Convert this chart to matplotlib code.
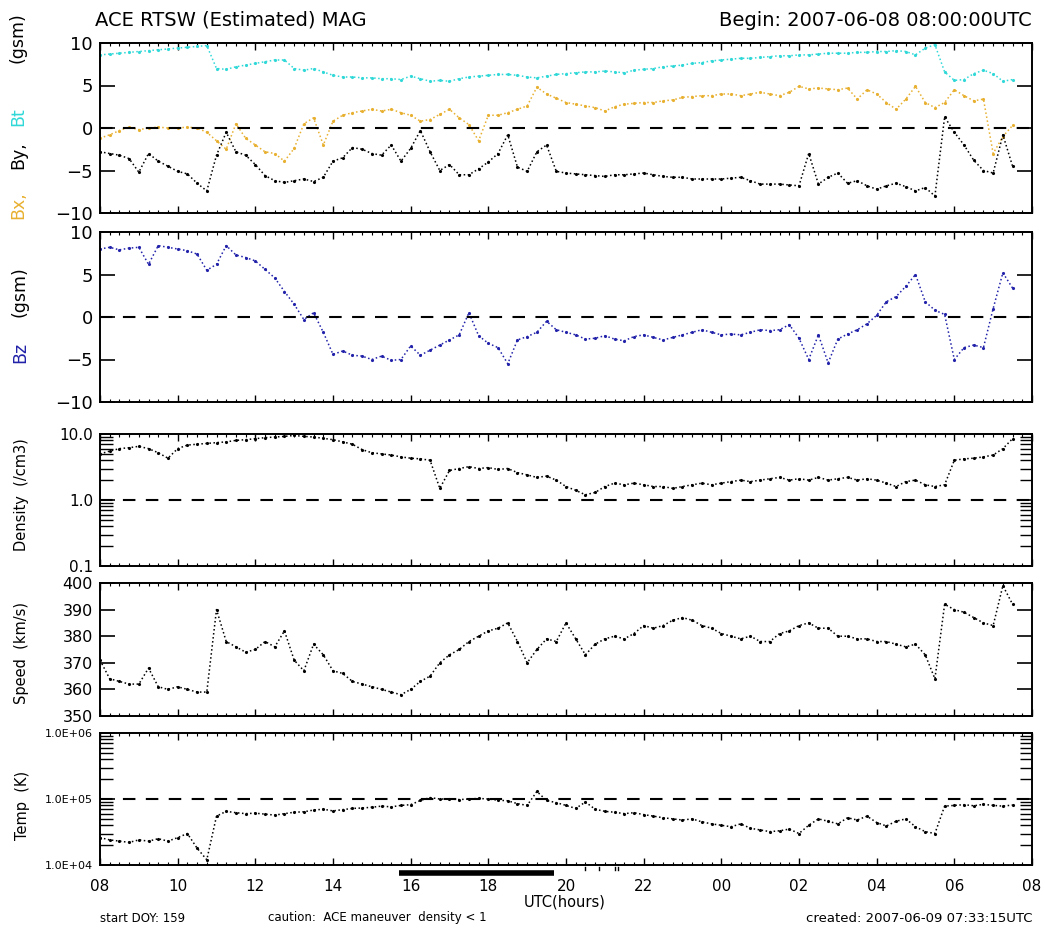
import numpy as np
import matplotlib
matplotlib.use('Agg')
import matplotlib.pyplot as plt
from matplotlib.ticker import FixedLocator, MultipleLocator, LogLocator, NullFormatter
from matplotlib.transforms import blended_transform_factory

W, H = 1046, 933

# hours since 2007-06-08 08:00 UTC, 15 minute samples
hours = np.arange(0, 23.75, 0.25)

bt = [8.6, 8.7, 8.8, 8.9, 9.0, 9.1, 9.2, 9.3,
      9.4, 9.5, 9.6, 9.7, 7.0, 6.9, 7.2, 7.4,
      7.6, 7.8, 8.0, 8.0, 7.0, 6.8, 7.0, 6.6,
      6.2, 6.0, 6.0, 5.9, 5.9, 5.8, 5.8, 5.7,
      6.1, 5.8, 5.5, 5.6, 5.5, 5.8, 6.0, 6.1,
      6.2, 6.3, 6.3, 6.2, 6.0, 5.9, 6.1, 6.3,
      6.4, 6.5, 6.6, 6.6, 6.7, 6.6, 6.5, 6.8,
      6.9, 7.0, 7.2, 7.3, 7.4, 7.6, 7.7, 7.9,
      8.0, 8.1, 8.2, 8.2, 8.3, 8.4, 8.5, 8.5,
      8.6, 8.6, 8.7, 8.8, 8.8, 8.8, 8.9, 8.9,
      9.0, 9.0, 9.1, 9.0, 8.6, 9.4, 9.8, 6.6,
      5.6, 5.7, 6.4, 6.8, 6.4, 5.5, 5.7]

bx = [-1.2, -0.8, -0.3, 0.1, -0.2, 0.0, 0.1, 0.0,
      0.0, 0.1, 0.0, -0.5, -1.5, -2.5, 0.5, -1.2,
      -2.0, -2.8, -3.0, -3.9, -2.4, 0.5, 1.2, -2.0,
      0.8, 1.5, 1.8, 2.0, 2.2, 2.0, 2.2, 1.8,
      1.5, 0.8, 1.0, 1.6, 2.2, 1.2, 0.4, -1.5,
      1.5, 1.5, 1.8, 2.2, 2.6, 4.8, 4.0, 3.5,
      3.0, 2.8, 2.6, 2.4, 2.0, 2.5, 2.8, 2.9,
      3.0, 3.0, 3.2, 3.3, 3.6, 3.7, 3.8, 3.8,
      4.0, 4.0, 3.8, 4.0, 4.2, 4.0, 3.8, 4.2,
      4.9, 4.6, 4.7, 4.6, 4.5, 4.7, 3.4, 4.5,
      4.0, 3.0, 2.2, 3.4, 4.9, 3.0, 2.4, 3.0,
      4.5, 3.8, 3.2, 3.4, -3.0, -1.0, 0.3]

by = [-2.8, -3.0, -3.2, -3.6, -5.2, -3.0, -3.9, -4.5,
      -5.1, -5.4, -6.5, -7.4, -3.2, -0.5, -2.8, -3.2,
      -4.3, -5.6, -6.2, -6.4, -6.2, -6.0, -6.3, -5.8,
      -3.9, -3.5, -2.3, -2.5, -3.0, -3.2, -2.0, -3.9,
      -2.4, -0.3, -2.8, -5.0, -4.3, -5.5, -5.5, -4.8,
      -4.0, -3.0, -0.8, -4.6, -5.1, -2.8, -2.0, -5.1,
      -5.3, -5.4, -5.5, -5.6, -5.7, -5.5, -5.5, -5.4,
      -5.3, -5.5, -5.7, -5.8, -5.8, -6.0, -6.0, -6.0,
      -6.0, -5.9, -5.8, -6.2, -6.6, -6.6, -6.6, -6.7,
      -6.8, -3.0, -6.6, -5.8, -5.3, -6.5, -6.2, -6.8,
      -7.2, -6.8, -6.5, -6.9, -7.4, -7.0, -8.0, 1.3,
      -0.5, -2.0, -3.8, -5.0, -5.3, -0.8, -4.5]

bz = [8.0, 8.2, 7.9, 8.1, 8.2, 6.2, 8.4, 8.2,
      8.0, 7.8, 7.4, 5.5, 6.2, 8.4, 7.3, 7.0,
      6.6, 5.6, 4.6, 3.0, 1.5, -0.3, 0.5, -1.8,
      -4.4, -4.0, -4.5, -4.6, -5.0, -4.6, -5.1, -5.0,
      -3.4, -4.5, -3.9, -3.3, -2.7, -2.1, 0.5, -2.2,
      -3.1, -3.6, -5.5, -2.7, -2.3, -1.8, -0.5, -1.5,
      -1.8, -2.1, -2.6, -2.5, -2.2, -2.6, -2.8, -2.3,
      -2.1, -2.4, -2.7, -2.4, -2.1, -1.8, -1.5, -1.8,
      -2.1, -2.0, -2.1, -1.8, -1.5, -1.6, -1.5, -0.9,
      -2.5, -5.0, -2.1, -5.4, -2.6, -2.0, -1.5, -0.8,
      0.2, 1.8, 2.4, 3.6, 5.0, 1.8, 0.8, 0.3,
      -5.0, -3.6, -3.3, -3.6, 1.0, 5.2, 3.4]

density = [5.0, 5.5, 6.0, 6.2, 6.5, 6.0, 5.2, 4.3,
           6.0, 6.8, 7.0, 7.2, 7.4, 7.6, 8.0, 8.2,
           8.5, 8.8, 9.0, 9.2, 9.5, 9.2, 9.0, 8.6,
           8.2, 7.6, 7.0, 5.8, 5.2, 5.0, 4.8, 4.5,
           4.3, 4.2, 4.0, 1.5, 2.8, 3.0, 3.2, 3.0,
           3.1, 2.9, 3.0, 2.6, 2.4, 2.2, 2.3, 2.0,
           1.6, 1.4, 1.2, 1.3, 1.6, 1.8, 1.7, 1.8,
           1.7, 1.6, 1.6, 1.5, 1.6, 1.7, 1.8, 1.7,
           1.8, 1.9, 2.0, 1.9, 2.0, 2.1, 2.2, 2.0,
           2.1, 2.0, 2.2, 2.0, 2.1, 2.2, 2.0, 2.1,
           2.0, 1.8, 1.6, 1.9, 2.0, 1.7, 1.6, 1.7,
           4.0, 4.2, 4.3, 4.5, 4.8, 6.0, 8.5]

speed = [371, 364, 363, 362, 362, 368, 361, 360,
         361, 360, 359, 359, 390, 378, 376, 374,
         375, 378, 376, 382, 371, 367, 377, 373,
         367, 366, 363, 362, 361, 360, 359, 358,
         360, 363, 365, 370, 373, 375, 378, 380,
         382, 383, 385, 378, 370, 375, 379, 378,
         385, 379, 373, 377, 379, 380, 379, 381,
         384, 383, 384, 386, 387, 386, 384, 383,
         381, 380, 379, 380, 378, 378, 381, 382,
         384, 385, 383, 383, 380, 380, 379, 379,
         378, 378, 377, 376, 377, 373, 364, 392,
         390, 389, 387, 385, 384, 399, 392]

temp = [2.6e4, 2.4e4, 2.3e4, 2.2e4, 2.4e4, 2.3e4, 2.5e4, 2.3e4,
        2.6e4, 3.0e4, 1.8e4, 1.2e4, 5.5e4, 6.5e4, 6.2e4, 6.0e4,
        6.1e4, 5.9e4, 5.7e4, 6.0e4, 6.3e4, 6.4e4, 6.8e4, 7.0e4,
        6.6e4, 6.9e4, 7.2e4, 7.3e4, 7.5e4, 7.8e4, 7.6e4, 8.0e4,
        8.2e4, 9.5e4, 1.05e5, 1.0e5, 1.0e5, 9.8e4, 1.0e5, 1.02e5,
        1.0e5, 9.6e4, 9.4e4, 8.5e4, 8.0e4, 1.3e5, 9.5e4, 8.8e4,
        8.0e4, 7.2e4, 9.0e4, 7.0e4, 6.5e4, 6.3e4, 6.0e4, 6.2e4,
        5.8e4, 5.5e4, 5.2e4, 5.0e4, 4.8e4, 5.0e4, 4.5e4, 4.2e4,
        4.0e4, 3.8e4, 4.2e4, 3.6e4, 3.4e4, 3.2e4, 3.3e4, 3.5e4,
        3.0e4, 4.0e4, 5.0e4, 4.6e4, 4.2e4, 5.2e4, 4.8e4, 5.5e4,
        4.4e4, 3.9e4, 4.6e4, 5.0e4, 3.8e4, 3.2e4, 3.0e4, 7.8e4,
        8.0e4, 8.2e4, 7.9e4, 8.3e4, 8.0e4, 7.8e4, 8.1e4]

hour_ticks = [0, 2, 4, 6, 8, 10, 12, 14, 16, 18, 20, 22, 24]
hour_labels = ['08', '10', '12', '14', '16', '18', '20', '22', '00', '02', '04', '06', '08']
maneuver = (7.7, 11.7)
caution_marks = [12.5, 12.85, 13.25, 13.35]

C_BX = '#e8b030'
C_BT = '#30d8d8'
C_BZ = '#2222aa'


def box(top, bottom, left=100, right=1032):
    return [left / W, 1 - bottom / H, (right - left) / W, (bottom - top) / H]


def style(ax, last=False):
    ax.set_xlim(0, 24)
    ax.xaxis.set_major_locator(FixedLocator(hour_ticks))
    ax.xaxis.set_minor_locator(MultipleLocator(0.25))
    ax.tick_params(axis='x', which='both', direction='in', top=True, bottom=True)
    ax.tick_params(axis='x', which='major', length=5, width=1.0)
    ax.tick_params(axis='x', which='minor', length=2.5, width=0.8)
    ax.tick_params(axis='y', which='both', direction='in', left=True, right=True)
    ax.tick_params(axis='y', which='major', length=11, width=1.2, pad=5)
    ax.tick_params(axis='y', which='minor', length=9, width=1.0)
    for s in ax.spines.values():
        s.set_linewidth(1.4)
    if last:
        ax.set_xticklabels(hour_labels, fontsize=11)
        ax.tick_params(axis='x', which='major', pad=10)
    else:
        ax.tick_params(axis='x', labelbottom=False)


def trace(ax, y, color):
    # dotted trace to look like the dense 1-min dots of the original
    ax.plot(hours, y, color=color, lw=1.1, ls=':', marker='.', ms=2.5)


def zero_line(ax, y):
    ax.axhline(y, color='black', lw=1.5, dashes=(6, 5))


fig = plt.figure(figsize=(W / 100, H / 100), dpi=100)

# panel 1: Bx, By, Bt
ax1 = fig.add_axes(box(43, 213))
trace(ax1, bt, C_BT)
trace(ax1, bx, C_BX)
trace(ax1, by, 'black')
zero_line(ax1, 0)
ax1.set_ylim(-10, 10)
ax1.set_yticks([-10, -5, 0, 5, 10])
style(ax1)
ax1.tick_params(axis='y', labelsize=13)

# panel 2: Bz
ax2 = fig.add_axes(box(232, 402))
trace(ax2, bz, C_BZ)
zero_line(ax2, 0)
ax2.set_ylim(-10, 10)
ax2.set_yticks([-10, -5, 0, 5, 10])
style(ax2)
ax2.tick_params(axis='y', labelsize=13)

# panel 3: density
ax3 = fig.add_axes(box(434, 566))
trace(ax3, density, 'black')
zero_line(ax3, 1.0)
ax3.set_yscale('log')
ax3.set_ylim(0.1, 10)
ax3.yaxis.set_major_locator(FixedLocator([0.1, 1, 10]))
ax3.yaxis.set_minor_locator(LogLocator(subs=range(2, 10)))
ax3.yaxis.set_minor_formatter(NullFormatter())
ax3.set_yticklabels(['0.1', '1.0', '10.0'])
style(ax3)
ax3.tick_params(axis='y', labelsize=11)

# panel 4: speed
ax4 = fig.add_axes(box(583, 716))
trace(ax4, speed, 'black')
ax4.set_ylim(350, 400)
ax4.set_yticks([350, 360, 370, 380, 390, 400])
style(ax4)
ax4.tick_params(axis='y', labelsize=11.5)

# panel 5: temperature
ax5 = fig.add_axes(box(733, 865))
trace(ax5, temp, 'black')
zero_line(ax5, 1e5)
ax5.set_yscale('log')
ax5.set_ylim(1e4, 1e6)
ax5.yaxis.set_major_locator(FixedLocator([1e4, 1e5, 1e6]))
ax5.yaxis.set_minor_locator(LogLocator(subs=range(2, 10)))
ax5.yaxis.set_minor_formatter(NullFormatter())
ax5.set_yticklabels(['1.0E+04', '1.0E+05', '1.0E+06'])
style(ax5, last=True)
ax5.tick_params(axis='y', labelsize=8)

# maneuver bar and density<1 marks below the time axis
tr = blended_transform_factory(ax5.transData, ax5.transAxes)
ax5.plot(maneuver, [-0.06, -0.06], color='black', lw=4, transform=tr, clip_on=False,
         solid_capstyle='butt')
for m in caution_marks:
    ax5.plot([m, m], [-0.015, -0.04], color='black', lw=1, transform=tr, clip_on=False)


def ftext(x, y, s, **kw):
    fig.text(x / W, 1 - y / H, s, **kw)


# titles
ftext(95, 20, 'ACE RTSW (Estimated) MAG', fontsize=14, ha='left', va='center')
ftext(1032, 20, 'Begin: 2007-06-08 08:00:00UTC', fontsize=14, ha='right', va='center')

# y labels
lab = dict(rotation=90, ha='center', va='center', fontsize=12.5)
ftext(18, 205, 'Bx,', color=C_BX, **lab)
ftext(18, 155, 'By,', color='black', **lab)
ftext(18, 117, 'Bt', color=C_BT, **lab)
ftext(18, 38, '(gsm)', color='black', **lab)
ftext(20, 352, 'Bz', color=C_BZ, **lab)
ftext(20, 292, '(gsm)', color='black', **lab)
lab2 = dict(rotation=90, ha='center', va='center', fontsize=10.5)
ftext(22, 495, 'Density  (/cm3)', **lab2)
ftext(22, 653, 'Speed  (km/s)', **lab2)
ftext(22, 805, 'Temp  (K)', **lab2)

# footer
ftext(565, 902, 'UTC(hours)', fontsize=10.5, ha='center', va='center')
ftext(100, 918, 'start DOY: 159', fontsize=8.5, ha='left', va='center')
ftext(268, 918, 'caution:  ACE maneuver  density < 1', fontsize=8.5, ha='left', va='center')
ftext(1032, 918, 'created: 2007-06-09 07:33:15UTC', fontsize=9.5, ha='right', va='center')

fig.savefig('out.png', dpi=100, facecolor='white')
